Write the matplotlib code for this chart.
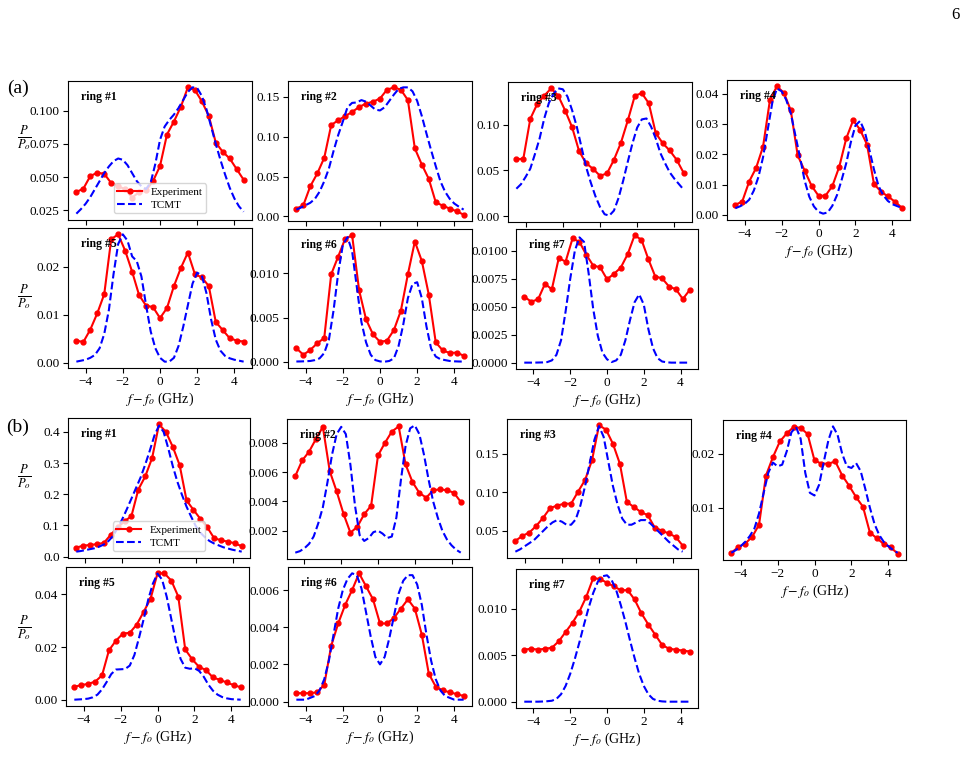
import matplotlib
matplotlib.use("Agg")
import matplotlib.pyplot as plt
import numpy as np

plt.rcParams["font.family"] = ["Liberation Serif", "DejaVu Serif"]
plt.rcParams["mathtext.fontset"] = "stix"

# detuning grids (GHz)
f_exp = np.linspace(-4.5, 4.5, 25)
f_th = np.linspace(-4.5, 4.5, 37)

# ---- (a) ----
exp_a1 = [0.0388, 0.0413, 0.0508, 0.0533, 0.0525, 0.0455, 0.043, 0.041, 0.0345, 0.0388, 0.040, 0.047, 0.0583,
          0.082, 0.0918, 0.103, 0.1175, 0.1155, 0.107, 0.096, 0.076, 0.069, 0.064, 0.056, 0.048]
th_a1 = [0.0225, 0.026, 0.030, 0.035, 0.041, 0.047, 0.053, 0.058, 0.062, 0.064, 0.063, 0.059, 0.053, 0.047, 0.043,
         0.041, 0.046, 0.060, 0.078, 0.088, 0.093, 0.097, 0.102, 0.108, 0.114, 0.1175, 0.117, 0.111, 0.101, 0.088,
         0.075, 0.063, 0.052, 0.042, 0.034, 0.028, 0.024]

exp_a2 = [0.0097, 0.0139, 0.0378, 0.0538, 0.0735, 0.1147, 0.1206, 0.126, 0.131, 0.1374, 0.1416, 0.144, 0.148,
          0.159, 0.162, 0.159, 0.146, 0.0853, 0.065, 0.047, 0.0176, 0.0134, 0.0097, 0.0063, 0.0021]
th_a2 = [0.0084, 0.011, 0.014, 0.017, 0.022, 0.031, 0.044, 0.060, 0.082, 0.102, 0.119, 0.137, 0.1425, 0.143, 0.146,
         0.144, 0.139, 0.134, 0.133, 0.137, 0.145, 0.153, 0.160, 0.162, 0.162, 0.157, 0.145, 0.126, 0.104, 0.083,
         0.063, 0.044, 0.031, 0.022, 0.016, 0.012, 0.0084]

exp_a3 = [0.0624, 0.0628, 0.1066, 0.123, 0.132, 0.140, 0.132, 0.1157, 0.0974, 0.0712, 0.058, 0.0518, 0.0442,
          0.0467, 0.0617, 0.0803, 0.1051, 0.132, 0.1347, 0.1237, 0.0909, 0.0799, 0.0719, 0.0617, 0.0474]
th_a3 = [0.030, 0.035, 0.043, 0.052, 0.068, 0.085, 0.107, 0.124, 0.134, 0.140, 0.139, 0.131, 0.116, 0.098, 0.076,
         0.054, 0.037, 0.022, 0.010, 0.002, 0.0005, 0.006, 0.020, 0.039, 0.060, 0.080, 0.097, 0.106, 0.107, 0.098,
         0.085, 0.069, 0.058, 0.048, 0.041, 0.035, 0.029]

exp_a4 = [0.0033, 0.0044, 0.011, 0.0155, 0.0225, 0.038, 0.0424, 0.0403, 0.0345, 0.0196, 0.0146, 0.0096, 0.0063,
          0.0063, 0.0095, 0.0159, 0.0252, 0.0312, 0.0281, 0.0232, 0.0102, 0.0077, 0.0061, 0.0044, 0.0024]
th_a4 = [0.0022, 0.0028, 0.0036, 0.0050, 0.0080, 0.0125, 0.0190, 0.0280, 0.0370, 0.0417, 0.0408, 0.0380, 0.0335,
         0.0262, 0.0190, 0.0113, 0.0060, 0.0028, 0.0010, 0.0004, 0.0008, 0.0030, 0.0065, 0.0115, 0.0170, 0.0240,
         0.0295, 0.0310, 0.0275, 0.0215, 0.0150, 0.0095, 0.0065, 0.0046, 0.0035, 0.0029, 0.0023]

exp_a5 = [0.0046, 0.0043, 0.0069, 0.0103, 0.0143, 0.0258, 0.0268, 0.0234, 0.019, 0.0141, 0.0119, 0.0116, 0.0093,
          0.0114, 0.016, 0.0198, 0.023, 0.0185, 0.0178, 0.016, 0.0085, 0.0068, 0.0051, 0.0046, 0.0044]
th_a5 = [0.0002, 0.0004, 0.0006, 0.0010, 0.0016, 0.0030, 0.0060, 0.0110, 0.0185, 0.0248, 0.0268, 0.0255, 0.0222,
         0.0212, 0.0180, 0.0120, 0.0065, 0.0030, 0.0010, 0.0002, 0.0002, 0.0010, 0.0035, 0.0075, 0.0120, 0.0165,
         0.0188, 0.0182, 0.0145, 0.0090, 0.0048, 0.0025, 0.0014, 0.0009, 0.0006, 0.0004, 0.0002]

exp_a6 = [0.00154, 0.0008, 0.00135, 0.0021, 0.0027, 0.0099, 0.0119, 0.0139, 0.0143, 0.0081, 0.0048, 0.0031,
          0.00226, 0.0024, 0.0036, 0.0058, 0.0099, 0.0136, 0.0114, 0.0076, 0.0022, 0.0013, 0.0010, 0.00105, 0.0007]
th_a6 = [0.00004, 0.00005, 0.00007, 0.0001, 0.0002, 0.0004, 0.0010, 0.0025, 0.0058, 0.0100, 0.0132, 0.0141,
         0.0125, 0.0085, 0.0045, 0.0022, 0.0008, 0.0002, 0.00005, 0.00002, 0.0001, 0.0004, 0.0018, 0.0042, 0.0072,
         0.0088, 0.0090, 0.0072, 0.0040, 0.0015, 0.0006, 0.0003, 0.0002, 0.0001, 0.00006, 0.00004, 0.00003]

exp_a7 = [0.0059, 0.00545, 0.00566, 0.00704, 0.00656, 0.00934, 0.00904, 0.0111, 0.0108, 0.00964, 0.00868,
          0.00853, 0.00746, 0.00793, 0.0085, 0.0097, 0.01138, 0.01099, 0.00925, 0.0077, 0.00754, 0.0068, 0.00656,
          0.00569, 0.0065]
th_a7 = [0.0, 0.0, 0.0, 0.00001, 0.00002, 0.00005, 0.0002, 0.0007, 0.0020, 0.0046, 0.0075, 0.0100, 0.0112, 0.0108,
         0.0080, 0.0048, 0.0024, 0.0009, 0.0003, 0.00005, 0.0002, 0.0007, 0.0020, 0.0038, 0.0054, 0.0061, 0.0052,
         0.0030, 0.0013, 0.0004, 0.0001, 0.00003, 0.0, 0.0, 0.0, 0.0, 0.0]

# ---- (b) ----
exp_b1 = [0.029, 0.035, 0.0375, 0.040, 0.044, 0.070, 0.094, 0.113, 0.130, 0.215, 0.257, 0.316, 0.424, 0.400,
          0.352, 0.293, 0.180, 0.150, 0.121, 0.094, 0.059, 0.0525, 0.048, 0.043, 0.033]
th_b1 = [0.016, 0.018, 0.021, 0.024, 0.027, 0.032, 0.039, 0.050, 0.066, 0.092, 0.120, 0.152, 0.186, 0.220, 0.254,
         0.295, 0.340, 0.388, 0.420, 0.400, 0.348, 0.290, 0.240, 0.198, 0.160, 0.128, 0.098, 0.077, 0.062, 0.050,
         0.042, 0.036, 0.030, 0.026, 0.022, 0.019, 0.016]

exp_b2 = [0.00573, 0.0068, 0.0074, 0.00827, 0.0091, 0.00607, 0.00469, 0.00315, 0.00186, 0.00227, 0.00313, 0.0037,
          0.00714, 0.0080, 0.00877, 0.00913, 0.00653, 0.00533, 0.00458, 0.00426, 0.00476, 0.00483, 0.00476,
          0.0046, 0.00397]
th_b2 = [0.0005, 0.0006, 0.0008, 0.0011, 0.0016, 0.0025, 0.0036, 0.0053, 0.0072, 0.0086, 0.0091, 0.0086, 0.0065,
         0.0037, 0.0017, 0.0013, 0.0015, 0.0019, 0.0020, 0.0018, 0.0015, 0.0016, 0.0029, 0.0055, 0.0078, 0.0090,
         0.0092, 0.0086, 0.0072, 0.0055, 0.0040, 0.0029, 0.0020, 0.0014, 0.0010, 0.0007, 0.0005]

exp_b3 = [0.037, 0.0435, 0.0478, 0.0565, 0.0672, 0.0797, 0.0828, 0.0853, 0.0853, 0.101, 0.116, 0.1418, 0.187,
          0.1815, 0.163, 0.137, 0.0875, 0.081, 0.0746, 0.0703, 0.0543, 0.0504, 0.0466, 0.0422, 0.031]
th_b3 = [0.023, 0.026, 0.030, 0.034, 0.038, 0.044, 0.050, 0.056, 0.061, 0.064, 0.062, 0.058, 0.058, 0.065, 0.083,
         0.108, 0.138, 0.168, 0.186, 0.172, 0.140, 0.108, 0.084, 0.066, 0.058, 0.058, 0.061, 0.064, 0.064, 0.060,
         0.054, 0.048, 0.042, 0.036, 0.031, 0.026, 0.023]

exp_b4 = [0.00167, 0.00278, 0.0034, 0.00463, 0.0069, 0.016, 0.0194, 0.0223, 0.0238, 0.025, 0.0248, 0.0237, 0.0188,
          0.0182, 0.0182, 0.0186, 0.016, 0.0141, 0.012, 0.0102, 0.0054, 0.0044, 0.0033, 0.0027, 0.00154]
th_b4 = [0.0017, 0.0022, 0.0029, 0.0037, 0.0048, 0.0062, 0.0090, 0.0128, 0.0165, 0.0184, 0.0177, 0.0180, 0.0205,
         0.0240, 0.0250, 0.0228, 0.0165, 0.0128, 0.0123, 0.0143, 0.0185, 0.0225, 0.0251, 0.0235, 0.0200, 0.0177,
         0.0174, 0.0183, 0.0168, 0.0135, 0.0100, 0.0070, 0.0050, 0.0037, 0.0029, 0.0022, 0.0017]

exp_b5 = [0.0050, 0.0056, 0.0061, 0.0069, 0.0093, 0.0188, 0.0224, 0.0251, 0.0254, 0.0285, 0.0333, 0.0383, 0.0479,
          0.0479, 0.0451, 0.0391, 0.0191, 0.0154, 0.0125, 0.0113, 0.0085, 0.0076, 0.0066, 0.0056, 0.0048]
th_b5 = [0.0001, 0.0002, 0.0003, 0.0005, 0.0010, 0.0020, 0.0040, 0.0068, 0.0098, 0.0115, 0.0116, 0.0117, 0.0130,
         0.0170, 0.0235, 0.0305, 0.0380, 0.0440, 0.0478, 0.0455, 0.0390, 0.0305, 0.0220, 0.0155, 0.0122, 0.0118,
         0.0120, 0.0110, 0.0088, 0.0058, 0.0035, 0.0020, 0.0011, 0.0006, 0.0003, 0.0002, 0.0001]

exp_b6 = [0.00045, 0.00045, 0.00045, 0.0005, 0.0009, 0.0030, 0.0042, 0.0052, 0.0060, 0.0069, 0.0062, 0.0055,
          0.0042, 0.0042, 0.0045, 0.0050, 0.0055, 0.0050, 0.0036, 0.0015, 0.0008, 0.0006, 0.0005, 0.0004, 0.0003]
th_b6 = [0.0001, 0.0001, 0.0001, 0.0002, 0.0003, 0.0006, 0.0012, 0.0022, 0.0036, 0.0050, 0.0060, 0.0066, 0.0069,
         0.0068, 0.0061, 0.0048, 0.0035, 0.0024, 0.0020, 0.0024, 0.0034, 0.0046, 0.0058, 0.0065, 0.0068, 0.0068,
         0.0063, 0.0052, 0.0036, 0.0022, 0.0012, 0.0006, 0.0003, 0.0002, 0.0001, 0.0001, 0.0001]

exp_b7 = [0.0056, 0.0057, 0.0056, 0.0057, 0.0058, 0.0065, 0.0075, 0.0085, 0.0097, 0.0113, 0.0133, 0.0132, 0.0128,
          0.0124, 0.0120, 0.0120, 0.0110, 0.0095, 0.0083, 0.0072, 0.0061, 0.0057, 0.0056, 0.0055, 0.0054]
th_b7 = [0.0, 0.0, 0.0, 0.0, 0.00002, 0.00005, 0.0001, 0.0003, 0.0008, 0.0017, 0.0030, 0.0046, 0.0064, 0.0083,
         0.0101, 0.0117, 0.0129, 0.0135, 0.0136, 0.0131, 0.0120, 0.0104, 0.0086, 0.0066, 0.0047, 0.0030, 0.0017,
         0.0008, 0.0003, 0.0001, 0.00003, 0.0, 0.0, 0.0, 0.0, 0.0, 0.0]

yticks = {
    "a1": [0.025, 0.050, 0.075, 0.100], "a2": [0.00, 0.05, 0.10, 0.15], "a3": [0.00, 0.05, 0.10],
    "a4": [0.00, 0.01, 0.02, 0.03, 0.04], "a5": [0.00, 0.01, 0.02], "a6": [0.000, 0.005, 0.010],
    "a7": [0.0, 0.0025, 0.005, 0.0075, 0.01],
    "b1": [0.0, 0.1, 0.2, 0.3, 0.4], "b2": [0.002, 0.004, 0.006, 0.008], "b3": [0.05, 0.10, 0.15],
    "b4": [0.01, 0.02], "b5": [0.00, 0.02, 0.04], "b6": [0.000, 0.002, 0.004, 0.006], "b7": [0.000, 0.005, 0.010],
}

W, H = 971, 776
fig = plt.figure(figsize=(W / 100, H / 100), dpi=100)


def box(x0, x1, y0, y1):
    # pixel box -> figure fraction
    return [x0 / W, 1 - y1 / H, (x1 - x0) / W, (y1 - y0) / H]


panels = [
    ("a1", exp_a1, th_a1, box(68, 252, 81, 220), 1, False),
    ("a2", exp_a2, th_a2, box(288, 472, 81, 221), 2, False),
    ("a3", exp_a3, th_a3, box(508, 692, 82, 222), 3, False),
    ("a4", exp_a4, th_a4, box(727, 910, 80, 220), 4, True),
    ("a5", exp_a5, th_a5, box(68, 252, 228, 368), 5, True),
    ("a6", exp_a6, th_a6, box(288, 472, 229, 368), 6, True),
    ("a7", exp_a7, th_a7, box(516, 698, 229, 369), 7, True),
    ("b1", exp_b1, th_b1, box(68, 250, 418, 558), 1, False),
    ("b2", exp_b2, th_b2, box(287, 469, 419, 559), 2, False),
    ("b3", exp_b3, th_b3, box(507, 691, 419, 558), 3, False),
    ("b4", exp_b4, th_b4, box(723, 906, 420, 560), 4, True),
    ("b5", exp_b5, th_b5, box(66, 249, 567, 706), 5, True),
    ("b6", exp_b6, th_b6, box(288, 472, 567, 706), 6, True),
    ("b7", exp_b7, th_b7, box(516, 698, 569, 708), 7, True),
]

for key, ye, yt, rect, ring, xlab in panels:
    ax = fig.add_axes(rect)
    ax.plot(f_exp, ye, "-o", color="red", lw=1.5, ms=3.5, label="Experiment")
    ax.plot(f_th, yt, "--", color="blue", lw=1.5, label="TCMT")
    ax.set_xticks([-4, -2, 0, 2, 4])
    ax.set_yticks(yticks[key])
    ax.tick_params(labelsize=9.5, pad=2.5)
    ax.text(0.07, 0.93, "ring #%d" % ring, transform=ax.transAxes, fontsize=8.5,
            fontweight="bold", va="top", ha="left")
    if xlab:
        ax.set_xlabel(r"$f-f_o$ (GHz)", fontsize=10, labelpad=2)
    else:
        ax.tick_params(labelbottom=False)
    if ring == 1:
        ax.legend(loc="lower center", bbox_to_anchor=(0.5, 0.01), fontsize=8,
                  handlelength=2.2, borderpad=0.3, labelspacing=0.3)

for y in [138, 297, 477, 628]:
    fig.text(24 / W, 1 - y / H, r"$\frac{P}{P_o}$", fontsize=13, ha="center", va="center")

fig.text(18 / W, 1 - 88 / H, "(a)", fontsize=14, ha="center", va="center")
fig.text(18 / W, 1 - 427 / H, "(b)", fontsize=14, ha="center", va="center")
fig.text(955 / W, 1 - 15 / H, "6", fontsize=12, ha="center", va="center")

fig.savefig("out.png", dpi=100)
